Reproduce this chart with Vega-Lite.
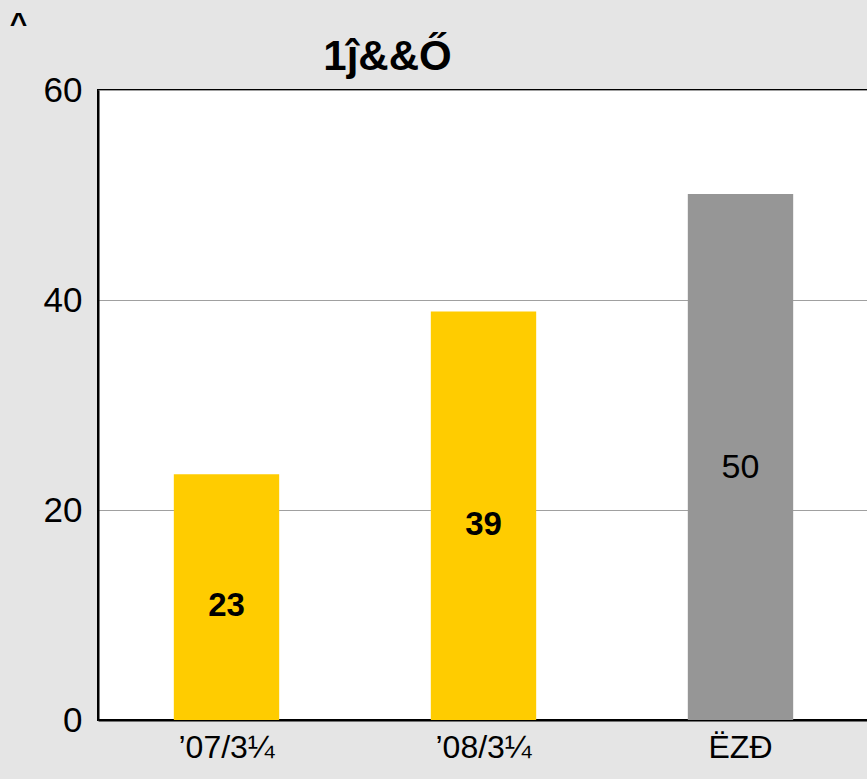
{
  "$schema": "https://vega.github.io/schema/vega-lite/v6.json",
  "autosize": "none",
  "padding": {"left": 98, "top": 90, "right": 0, "bottom": 59},
  "width": 771,
  "height": 630,
  "background": "#e5e5e5",
  "title": {
    "text": "1ĵ&&Ő",
    "font": "Liberation Sans",
    "fontSize": 42,
    "fontWeight": "bold",
    "color": "#000000",
    "anchor": "middle",
    "baseline": "alphabetic",
    "dx": -96,
    "dy": 112,
    "offset": 8
  },
  "config": {
    "view": {"fill": "#ffffff", "stroke": "#000000", "strokeWidth": 2},
    "font": "Liberation Sans"
  },
  "data": {
    "values": [
      {"period": "’07/3¼", "value": 23.4, "label": "23", "kind": "actual"},
      {"period": "’08/3¼", "value": 38.9, "label": "39", "kind": "actual"},
      {"period": "ËZÐ", "value": 50.1, "label": "50", "kind": "target"}
    ]
  },
  "encoding": {
    "x": {
      "field": "period",
      "type": "nominal",
      "sort": null,
      "scale": {"paddingInner": 0.59, "paddingOuter": 0.295},
      "axis": {
        "title": null,
        "labelAngle": 0,
        "labelFont": "Liberation Sans",
        "labelFontSize": 32,
        "labelColor": "#000000",
        "labelPadding": 12,
        "ticks": false,
        "domain": true,
        "domainColor": "#000000",
        "domainWidth": 2
      }
    }
  },
  "layer": [
    {
      "mark": {"type": "bar"},
      "encoding": {
        "y": {
          "field": "value",
          "type": "quantitative",
          "scale": {"domain": [0, 60], "nice": false},
          "axis": {
            "values": [0, 20, 40, 60],
            "title": "^",
            "titleAngle": 0,
            "titleFontSize": 30,
            "titleFontWeight": "bold",
            "titleColor": "#000000",
            "titleBaseline": "top",
            "titleAlign": "center",
            "titleX": -80,
            "titleY": -82,
            "labelFontSize": 35,
            "labelColor": "#000000",
            "labelPadding": 16,
            "ticks": false,
            "grid": true,
            "gridColor": "#a0a0a0",
            "gridWidth": 1,
            "domain": true,
            "domainColor": "#000000",
            "domainWidth": 2
          }
        },
        "color": {
          "field": "kind",
          "type": "nominal",
          "scale": {"domain": ["actual", "target"], "range": ["#ffcc00", "#969696"]},
          "legend": null
        }
      }
    },
    {
      "transform": [
        {"filter": "datum.kind == 'actual'"},
        {"calculate": "datum.value / 2", "as": "mid"}
      ],
      "mark": {"type": "text", "fontSize": 33, "fontWeight": "bold", "dy": 9, "color": "#000000"},
      "encoding": {
        "y": {"field": "mid", "type": "quantitative"},
        "text": {"field": "label"}
      }
    },
    {
      "transform": [
        {"filter": "datum.kind == 'target'"},
        {"calculate": "datum.value / 2", "as": "mid"}
      ],
      "mark": {"type": "text", "fontSize": 34, "fontWeight": "normal", "dy": 11, "color": "#000000"},
      "encoding": {
        "y": {"field": "mid", "type": "quantitative"},
        "text": {"field": "label"}
      }
    }
  ]
}
